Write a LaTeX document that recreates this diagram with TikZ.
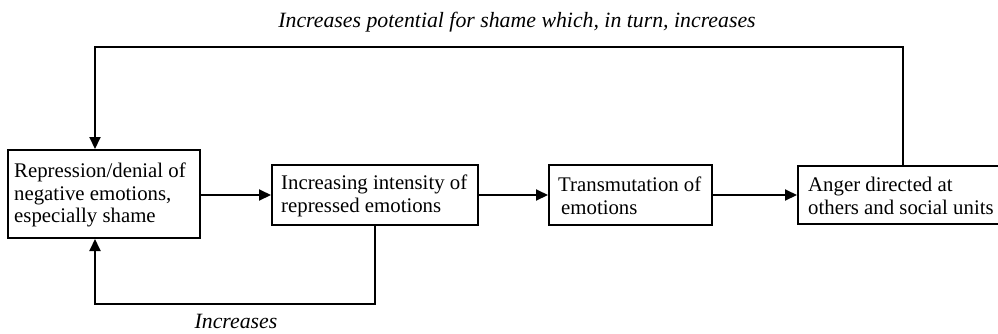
\documentclass[tikz,border=0pt]{standalone}
\usepackage{fontspec}
\setmainfont{Liberation Serif}
\usetikzlibrary{arrows.meta}
\tikzset{
  boxnode/.style={draw, line width=2pt, inner sep=0pt, minimum height=60pt},
  boxtext/.style={align=left, inner sep=0pt, font=\fontsize{20.8}{22.5}\selectfont},
  link/.style={line width=2pt},
  arr/.style={link, -{Triangle[length=12pt,width=11pt]}},
  lbl/.style={inner sep=0pt, font=\fontsize{21.8}{24}\selectfont\itshape}
}
\begin{document}
\begin{tikzpicture}[x=1pt,y=-1pt]
\useasboundingbox (0,0) rectangle (998,333);
% boxes
\node[boxnode, minimum width=192pt, minimum height=88pt] (b1) at (104,194) {};
\node[boxnode, minimum width=206pt] (b2) at (375,195) {};
\node[boxnode, minimum width=163pt] (b3) at (630.5,195) {};
\node[boxnode, minimum width=206pt, minimum height=58pt] (b4) at (901,195) {};
% texts
\node[boxtext, anchor=west] (t1) at (14,195) {Repression/denial of\\negative emotions,\\especially shame};
\node[boxtext, anchor=west] (t2) at (281,196) {Increasing intensity of\\repressed emotions};
\node[boxtext, anchor=west] (t3) at (558,196) {Transmutation of\\\hspace{3pt}emotions};
\node[boxtext, anchor=west] (t4) at (808,196) {Anger directed at\\others and social units};
% forward arrows
\draw[arr] (b1.east |- b2) -- (b2.west);
\draw[arr] (b2.east) -- (b3.west);
\draw[arr] (b3.east) -- (b4.west);
% top feedback loop
\coordinate (tr) at (903,47);
\coordinate (tl) at (95,47);
\draw[arr] (b4.north -| tr) -- (tr) -- (tl) -- (tl |- b1.north);
% bottom feedback loop
\coordinate (bl) at (95,304);
\draw[arr] (b2.south) |- (bl) -- (bl |- b1.south);
% labels
\node[lbl, anchor=base] (top) at (517,27) {Increases potential for shame which, in turn, increases};
\node[lbl, anchor=base] (bot) at (236,328) {Increases};
\end{tikzpicture}
\end{document}
